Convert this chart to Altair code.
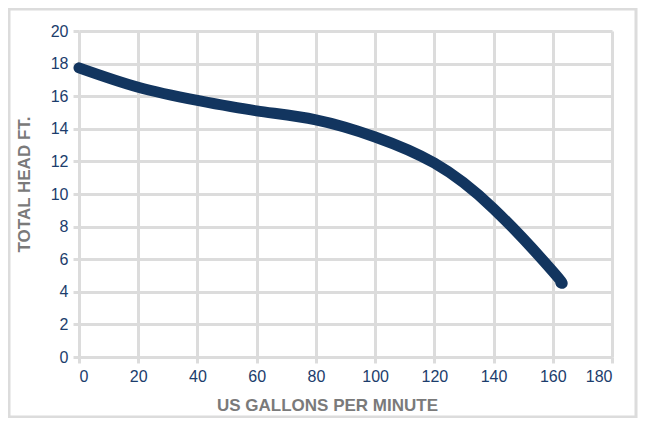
import altair as alt
import pandas as pd

gpm = [0, 20, 40, 60, 80, 100, 120, 140, 160, 162.7]
head = [17.74, 16.55, 15.74, 15.1, 14.55, 13.5, 11.9, 9.1, 5.25, 4.56]

x_ticks = list(range(0, 181, 20))
y_ticks = list(range(0, 21, 2))

df = pd.DataFrame({"gpm": gpm, "head": head})

W, H = 533, 326
FONT = "Liberation Sans"
NAVY = "#1c3d6c"
GRID = "#dcdcdc"

border = alt.Chart(pd.DataFrame({"a": [0]})).mark_rect(
    fillOpacity=0, stroke=GRID, strokeWidth=3, clip=False
).encode(
    x=alt.value(-70), x2=alt.value(557), y=alt.value(-22), y2=alt.value(386)
)

line = alt.Chart(df).mark_line(
    color="#12355f", strokeWidth=11, strokeCap="round", interpolate="natural"
).encode(
    x=alt.X("gpm:Q", scale=alt.Scale(domain=[0, 180], nice=False),
            axis=alt.Axis(values=x_ticks, title="US GALLONS PER MINUTE",
                          titleX=248, titleY=53, titleBaseline="alphabetic",
                          titleAlign="center")),
    y=alt.Y("head:Q", scale=alt.Scale(domain=[0, 20], nice=False),
            axis=alt.Axis(values=y_ticks, title="TOTAL HEAD FT.",
                          titleX=-50, titleY=153, titleBaseline="alphabetic",
                          titleAlign="center", titleAngle=-90)),
)

chart = alt.layer(border, line).properties(
    width=W, height=H,
    autosize=alt.AutoSizeParams(type="none"),
    padding={"left": 71, "top": 23, "right": 26, "bottom": 61},
).configure_view(stroke=None).configure_axis(
    grid=True, gridColor=GRID, gridWidth=3,
    domain=False, ticks=True, tickColor=GRID, tickWidth=3, tickSize=6,
    labelFont=FONT, labelFontSize=16, labelColor=NAVY, labelPadding=5,
    titleFont=FONT, titleFontSize=17, titleFontWeight="bold", titleColor="#7a7a7a",
)

chart.save("out.html", embed_options={"renderer": "svg", "actions": False})
